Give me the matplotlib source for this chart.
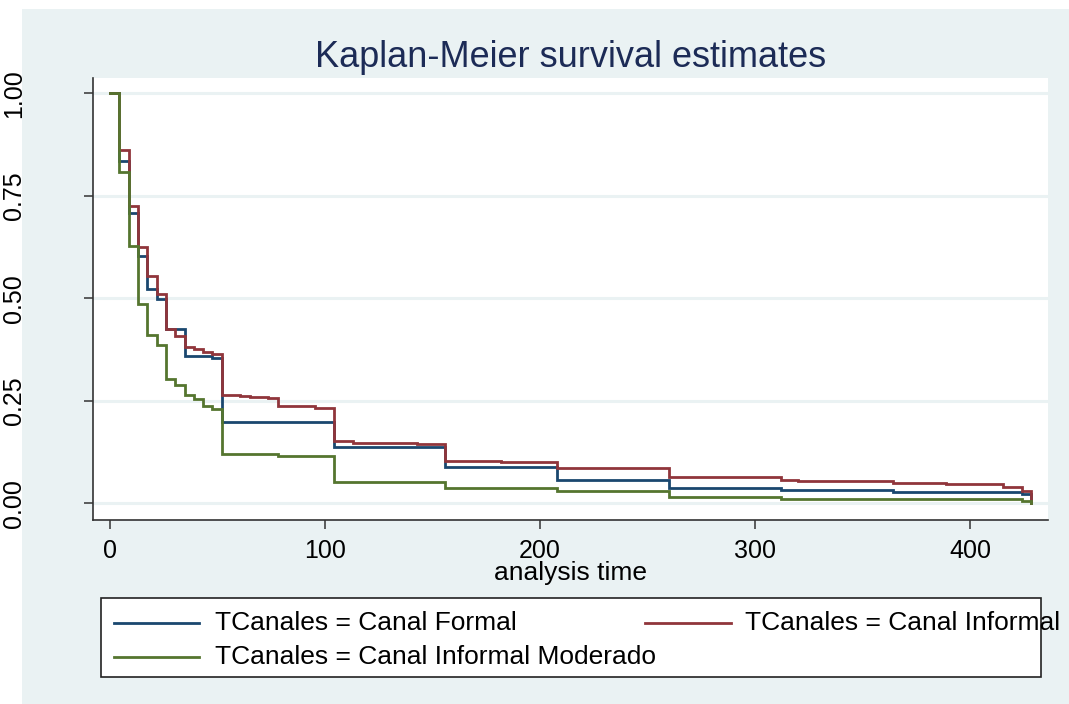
import matplotlib
matplotlib.use('Agg')
import matplotlib.pyplot as plt
from matplotlib.patches import Rectangle
from matplotlib.lines import Line2D

# analysis time (weeks) and survival estimates
t_formal = [0, 4.33, 8.67, 13, 17.33, 21.67, 26, 34.67, 47.67, 52, 104, 156, 208, 260, 312, 364, 424, 428.6]
s_formal = [1.0, 0.834, 0.707, 0.603, 0.522, 0.499, 0.426, 0.360, 0.355, 0.198, 0.137, 0.089, 0.056,
            0.0375, 0.032, 0.027, 0.022, 0.0]

t_informal = [0, 4.33, 8.67, 13, 17.33, 21.67, 26, 30.33, 34.67, 39, 43.33, 47.67, 52, 60.67, 65, 73.67,
              78, 86.67, 95.33, 104, 113, 130, 143, 156, 182, 208, 234, 260, 312, 320, 364, 389, 415.5,
              424.4, 428.6]
s_informal = [1.0, 0.861, 0.725, 0.625, 0.554, 0.511, 0.426, 0.407, 0.381, 0.375, 0.369, 0.363, 0.263,
              0.262, 0.258, 0.256, 0.237, 0.236, 0.233, 0.152, 0.148, 0.146, 0.144, 0.103, 0.101, 0.087,
              0.085, 0.063, 0.056, 0.055, 0.050, 0.047, 0.040, 0.029, 0.0]

t_moderado = [0, 4.33, 8.67, 13, 17.33, 21.67, 26, 30.33, 34.67, 39, 43.33, 47.67, 52, 78, 104, 156, 208,
              260, 312, 424, 428.6]
s_moderado = [1.0, 0.808, 0.627, 0.485, 0.411, 0.387, 0.302, 0.289, 0.263, 0.255, 0.237, 0.229, 0.1195,
              0.116, 0.052, 0.038, 0.030, 0.015, 0.011, 0.006, 0.0]

labels = ['TCanales = Canal Formal', 'TCanales = Canal Informal', 'TCanales = Canal Informal Moderado']
colors = ['#1a476f', '#90353b', '#55752f']
yticks = [0, 0.25, 0.5, 0.75, 1.0]
ytick_labels = ['0.00', '0.25', '0.50', '0.75', '1.00']
xticks = [0, 100, 200, 300, 400]

W, H = 1069, 704
BG = '#eaf2f3'
plt.rcParams['font.family'] = ['Liberation Sans', 'DejaVu Sans']

fig = plt.figure(figsize=(W / 100, H / 100), dpi=100, facecolor='white')
# stata graph region
fig.patches.append(Rectangle((22 / W, 0), 1 - 22 / W, 1 - 9 / H, transform=fig.transFigure,
                             facecolor=BG, edgecolor='none', zorder=-5))

ax = fig.add_axes([93 / W, (H - 520) / H, (1048 - 93) / W, (520 - 78) / H])
ax.set_facecolor('white')

series = [(t_formal, s_formal), (t_informal, s_informal), (t_moderado, s_moderado)]
for (t, s), c in zip(series, colors):
    ax.step(t, s, where='post', color=c, lw=2, solid_joinstyle='miter')

ax.set_xlim(-7.9, 436.3)
ax.set_ylim(-0.041, 1.037)
ax.set_yticks(yticks)
ax.set_yticklabels(ytick_labels, rotation=90, va='center', ha='right')
ax.set_xticks(xticks)
ax.yaxis.grid(True, color=BG, lw=2.2)
ax.set_axisbelow(True)
for side in ['top', 'right']:
    ax.spines[side].set_visible(False)
for side in ['left', 'bottom']:
    ax.spines[side].set_color('#333333')
    ax.spines[side].set_linewidth(1.2)
ax.tick_params(axis='both', direction='out', length=6.5, width=1.1, color='#333333', labelsize=18)
ax.tick_params(axis='y', pad=42)
ax.tick_params(axis='x', pad=7)
ax.set_xlabel('analysis time', fontsize=19, labelpad=-1)
ax.set_title('Kaplan-Meier survival estimates', fontsize=26, color='#1c2b56', pad=8)

# legend box, drawn by hand like stata (second entry runs past the frame)
def fx(x):
    return x / W

def fy(y):
    return 1 - y / H

fig.patches.append(Rectangle((fx(101), fy(677)), fx(1041 - 101), (677 - 598) / H, transform=fig.transFigure,
                             facecolor='white', edgecolor='#222222', lw=1.2, zorder=2))
entries = [(114, 199, 215, 623), (645, 731, 745, 623), (114, 199, 215, 657)]
for (x0, x1, xt, yy), lab, c in zip(entries, labels, colors):
    fig.lines.append(Line2D([fx(x0), fx(x1)], [fy(yy), fy(yy)], transform=fig.transFigure,
                            color=c, lw=2, zorder=3))
    fig.text(fx(xt), fy(yy), lab, fontsize=19, va='center', ha='left', zorder=4)

fig.savefig('out.png', dpi=100, facecolor='white')
